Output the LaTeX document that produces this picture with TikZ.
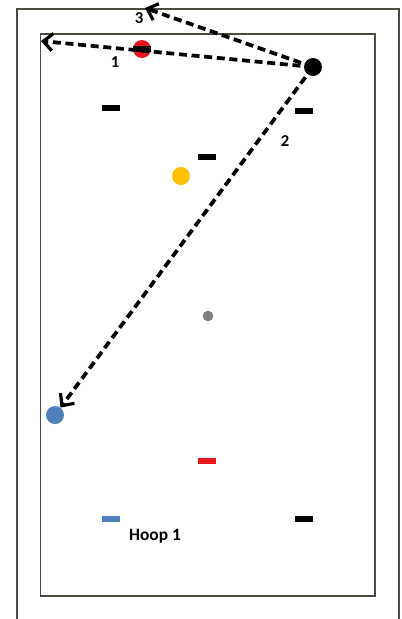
\documentclass[tikz,border=0pt]{standalone}
\usepackage{fontspec}
\setmainfont{Carlito}
\usetikzlibrary{arrows.meta}
\definecolor{framegray}{RGB}{74,74,62}
\definecolor{ballred}{RGB}{232,22,28}
\definecolor{ballyellow}{RGB}{255,192,0}
\definecolor{ballblue}{RGB}{79,129,189}
\definecolor{ballgray}{RGB}{128,128,128}
\tikzset{
  ball/.style={circle,fill=#1,inner sep=0pt,minimum size=13.5pt},
  ball/.default=black,
  cone/.style={rectangle,fill=#1,inner sep=0pt,minimum width=13pt,
               minimum height=5pt},
  cone/.default=black,
  pass/.style={-{Straight Barb[length=7pt,width=13pt,line width=2.4pt]},
               line width=2.8pt,dash pattern=on 6pt off 3.5pt},
  num/.style={font=\fontsize{12.5}{14}\bfseries,inner sep=0pt},
}
\begin{document}
\begin{tikzpicture}[x=0.75pt,y=-0.75pt]
  \useasboundingbox (0,0) rectangle (401,619);
  % field
  \draw[framegray,line width=2pt] (17,619) |- (399,9) -- (399,619);
  \draw[framegray,line width=1.3pt] (40.5,34) rectangle (375,596);

  % players
  \node[ball] (black) at (313,67) {};
  \node[ball=ballred] (red) at (142,49) {};
  \node[ball=ballyellow] (yellow) at (181,176) {};
  \node[ball=ballgray,minimum size=8pt] (gray) at (208,316) {};
  \node[ball=ballblue] (blue) at (55,415) {};

  % cones
  \node[cone] (c1) at (142,49) {};
  \node[cone] (c2) at (111,108) {};
  \node[cone] (c3) at (304,111) {};
  \node[cone] (c4) at (207,157) {};
  \node[cone=ballred] (c5) at (207,461) {};
  \node[cone=ballblue] (c6) at (111,519) {};
  \node[cone] (c7) at (304,519) {};
  \node[font=\fontsize{13}{15}\bfseries] (hoop) at (155,536) {Hoop 1};

  % passes
  \coordinate (end1) at (41,41);
  \coordinate (end3) at (145,8);
  \draw[pass] (black.center) -- (end1);
  \draw[pass] (black.center) -- (end3);
  \draw[pass] (black.center) -- (blue);
  \node[num] (n1) at (115,62) {1};
  \node[num] (n2) at (285,141) {2};
  \node[num] (n3) at (139,18) {3};
\end{tikzpicture}
\end{document}
